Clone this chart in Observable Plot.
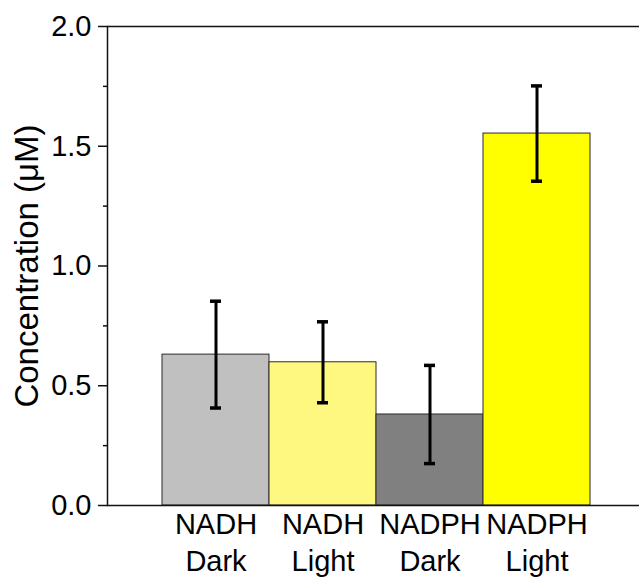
<!DOCTYPE html>
<html><head><meta charset="utf-8">
<script src="https://cdn.jsdelivr.net/npm/d3@7"></script>
<script src="https://cdn.jsdelivr.net/npm/@observablehq/plot@0.6"></script>
<style>
html,body{margin:0;padding:0;background:#fff;overflow:hidden}
</style>
</head><body><div id="chart"></div>
<script>
const categories = ["NADH Dark", "NADH Light", "NADPH Dark", "NADPH Light"];
const means = [0.630, 0.598, 0.380, 1.553];
const errors = [0.223, 0.169, 0.205, 0.199];
const colors = ["#c0c0c0", "#fff880", "#808080", "#ffff00"];
const yMajorTicks = [0, 0.5, 1.0, 1.5, 2.0];
const yMinorTicks = [0.25, 0.75, 1.25, 1.75];
const yLabel = "Concentration (\u03bcM)";

const data = categories.map((c, i) => ({
  category: c, value: means[i], lo: means[i] - errors[i], hi: means[i] + errors[i]
}));

const chart = Plot.plot({
  width: 639, height: 578,
  marginLeft: 107, marginTop: 26, marginBottom: 73, marginRight: -5,
  style: {fontFamily: "'Liberation Sans', Arial, sans-serif", fontSize: "29px", color: "#000", background: "#fff", overflow: "hidden"},
  x: {domain: categories, paddingInner: 0, paddingOuter: 0.5, axis: null},
  y: {domain: [0, 2], axis: null},
  color: {domain: categories, range: colors},
  marks: [
    Plot.barY(data, {x: "category", y: "value", fill: "category", stroke: "#2a2a2a", strokeWidth: 1}),
    Plot.ruleX(data, {x: "category", y1: "lo", y2: "hi", stroke: "#000", strokeWidth: 3}),
    Plot.tickY(data, {x: "category", y: "lo", stroke: "#000", strokeWidth: 3.5, insetLeft: 48, insetRight: 48}),
    Plot.tickY(data, {x: "category", y: "hi", stroke: "#000", strokeWidth: 3.5, insetLeft: 48, insetRight: 48}),
    Plot.ruleY([0, 2], {stroke: "#111", strokeWidth: 1.5}),
    Plot.frame({anchor: "left", stroke: "#111", strokeWidth: 1.5}),
    Plot.axisY({ticks: yMajorTicks, tickSize: 9, tickPadding: 7, strokeWidth: 1.5, stroke: "#111",
      tickFormat: d3.format(".1f"), fontSize: 29, label: null}),
    Plot.axisY({ticks: [], tickSize: 0, fontSize: 33,
      label: yLabel, labelAnchor: "center", labelArrow: "none", labelOffset: 93}),
    Plot.axisY(yMinorTicks, {tickSize: 4, strokeWidth: 1.5, stroke: "#111", tickFormat: () => "", label: null}),
    Plot.axisX({tickSize: 0, tickPadding: 2, fontSize: 29, lineHeight: 1.29,
      tickFormat: d => d.replace(" ", "\n"), label: null})
  ]
});
document.getElementById("chart").append(chart);
</script>
</body></html>
